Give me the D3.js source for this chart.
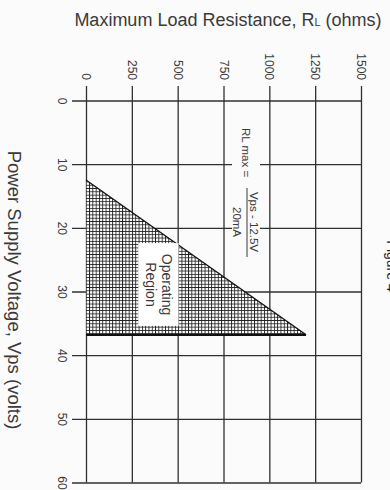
<!DOCTYPE html>
<html>
<head>
<meta charset="utf-8">
<script src="https://cdn.jsdelivr.net/npm/d3@7/dist/d3.min.js"></script>
<style>
  body { margin: 0; background: #fbfbfb; }
  svg { display: block; font-family: "Liberation Sans", Arial, sans-serif; }
</style>
</head>
<body>
<svg id="chart" width="390" height="490"></svg>
<script>
// axes (the chart is printed rotated a quarter turn clockwise)
var resTicks = [0, 250, 500, 750, 1000, 1250, 1500];
var voltTicks = [0, 10, 20, 30, 40, 50, 60];

// operating region: corners as (Vps, RL)
var regionV = [12.5, 36.8, 36.8];
var regionR = [0, 1200, 0];

// label box around "Operating Region"
var boxV = [22.4, 35.4];
var boxR = [285, 505];

var svg = d3.select("#chart");
var lineCol = "#303030", txtCol = "#3a3a3a";

var x = d3.scaleLinear().domain([0, 1500]).range([86, 361]);
var y = d3.scaleLinear().domain([0, 60]).range([100.5, 482.5]);

// hatch pattern
var defs = svg.append("defs");
var pat = defs.append("pattern")
    .attr("id", "hatch")
    .attr("patternUnits", "userSpaceOnUse")
    .attr("width", 3.3).attr("height", 3.3);
pat.append("rect").attr("width", 3.3).attr("height", 3.3).attr("fill", "#fff");
pat.append("path")
    .attr("d", "M0,0.45H3.3M0.45,0V3.3")
    .attr("stroke", "#222")
    .attr("stroke-width", 0.9);

// RL axis at top, ticks become the vertical grid
var gx = svg.append("g")
    .attr("transform", "translate(0,86)")
    .call(d3.axisTop(x).tickValues(resTicks).tickSize(-(y(60) - 86)).tickFormat(d3.format("d")));
gx.select(".domain").remove();
gx.selectAll(".tick line").attr("stroke", lineCol).attr("stroke-width", 1.3);
gx.selectAll(".tick text")
    .attr("y", null).attr("dy", null)
    .attr("transform", "translate(-4.5,-6) rotate(90)")
    .attr("text-anchor", "end")
    .attr("font-size", 12)
    .attr("fill", txtCol);

// Vps axis at left, ticks become the horizontal grid
var gy = svg.append("g")
    .attr("transform", "translate(72,0)")
    .call(d3.axisLeft(y).tickValues(voltTicks).tickSize(-(x(1500) - 72)));
gy.select(".domain").remove();
gy.selectAll(".tick line").attr("stroke", lineCol).attr("stroke-width", 1.3);
gy.selectAll(".tick text")
    .attr("x", null).attr("dy", null)
    .attr("transform", "translate(-14,0) rotate(90)")
    .attr("text-anchor", "middle")
    .attr("font-size", 12)
    .attr("fill", txtCol);

// white box behind the formula
svg.append("rect")
    .attr("x", 232).attr("y", 122)
    .attr("width", 28).attr("height", 140)
    .attr("fill", "#fbfbfb");

// operating region
var pts = regionV.map(function (v, i) { return [x(regionR[i]), y(v)]; });
svg.append("path")
    .attr("d", d3.line()(pts) + "Z")
    .attr("fill", "url(#hatch)")
    .attr("stroke", "none");
svg.append("path")
    .attr("d", d3.line()(pts.slice(0, 2)))
    .attr("stroke", "#111").attr("stroke-width", 1.3).attr("fill", "none");
svg.append("path")
    .attr("d", d3.line()(pts.slice(1, 3)))
    .attr("stroke", "#111").attr("stroke-width", 2.2).attr("fill", "none");

svg.append("rect")
    .attr("x", x(boxR[0])).attr("y", y(boxV[0]))
    .attr("width", x(boxR[1]) - x(boxR[0]))
    .attr("height", y(boxV[1]) - y(boxV[0]))
    .attr("fill", "#fff");

var lbl = svg.append("g")
    .attr("transform", "translate(" + ((x(boxR[0]) + x(boxR[1])) / 2) + "," + ((y(boxV[0]) + y(boxV[1])) / 2) + ") rotate(90)")
    .attr("font-size", 14).attr("fill", txtCol).attr("text-anchor", "middle");
lbl.append("text").attr("y", -4).text("Operating");
lbl.append("text").attr("y", 12).text("Region");

// formula  RL max = (Vps - 12.5V) / 20mA
var f = svg.append("g").attr("font-size", 11.5).attr("fill", txtCol);
f.append("text")
    .attr("transform", "translate(242,128) rotate(90)")
    .text("RL max =");
f.append("text")
    .attr("transform", "translate(250,222) rotate(90)")
    .attr("text-anchor", "middle")
    .text("Vps - 12.5V");
f.append("line")
    .attr("x1", 247).attr("x2", 247)
    .attr("y1", 188).attr("y2", 257)
    .attr("stroke", txtCol).attr("stroke-width", 1);
f.append("text")
    .attr("transform", "translate(233,222) rotate(90)")
    .attr("text-anchor", "middle")
    .text("20mA");

// axis titles
var tx = svg.append("text")
    .attr("x", 228).attr("y", 26)
    .attr("text-anchor", "middle")
    .attr("font-size", 18).attr("fill", txtCol)
    .text("Maximum Load Resistance, R");
tx.append("tspan").attr("font-size", 11).text("L");
tx.append("tspan").text(" (ohms)");

svg.append("text")
    .attr("transform", "translate(8,290) rotate(90)")
    .attr("text-anchor", "middle")
    .attr("font-size", 18.5).attr("fill", txtCol)
    .text("Power Supply Voltage, Vps (volts)");

// figure caption, mostly cut off at the right edge
svg.append("text")
    .attr("transform", "translate(387,266) rotate(90)")
    .attr("text-anchor", "middle")
    .attr("font-size", 14).attr("fill", "#222")
    .text("Figure 4");
</script>
</body>
</html>
